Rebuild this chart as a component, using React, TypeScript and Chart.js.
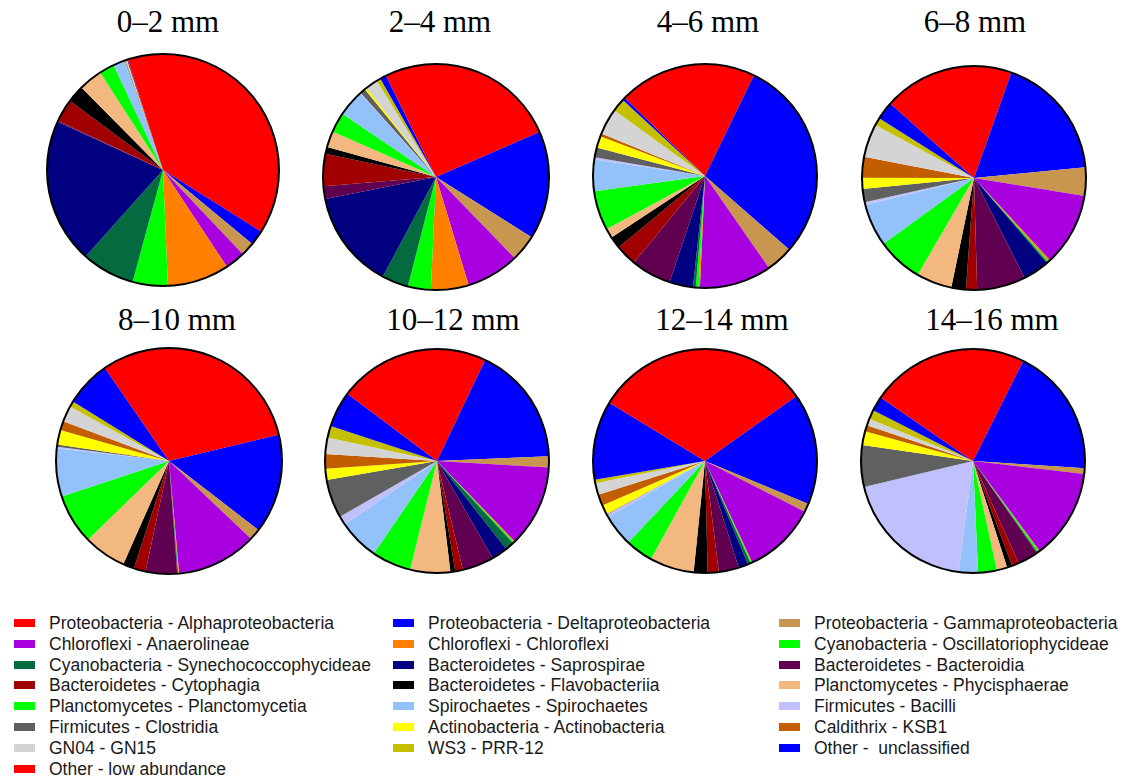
import React, { useEffect, useRef } from "react";
import { Chart, registerables } from "chart.js";

Chart.register(...registerables);

// ---- Data ----
const categories = [
  "Proteobacteria - Alphaproteobacteria",
  "Proteobacteria - Deltaproteobacteria",
  "Proteobacteria - Gammaproteobacteria",
  "Chloroflexi - Anaerolineae",
  "Chloroflexi - Chloroflexi",
  "Cyanobacteria - Oscillatoriophycideae",
  "Cyanobacteria - Synechococcophycideae",
  "Bacteroidetes - Saprospirae",
  "Bacteroidetes - Bacteroidia",
  "Bacteroidetes - Cytophagia",
  "Bacteroidetes - Flavobacteriia",
  "Planctomycetes - Phycisphaerae",
  "Planctomycetes - Planctomycetia",
  "Spirochaetes - Spirochaetes",
  "Firmicutes - Bacilli",
  "Firmicutes - Clostridia",
  "Actinobacteria - Actinobacteria",
  "Caldithrix - KSB1",
  "GN04 - GN15",
  "WS3 - PRR-12",
  "Other -  unclassified",
  "Other - low abundance",
];

const colors = [
  "#FF0000", "#0000FF", "#C8964E", "#A900E0", "#FF8000", "#00FF00",
  "#046A40", "#000080", "#610050", "#A00000", "#000000", "#F2B880",
  "#00FF00", "#93C1FA", "#C0C0FF", "#606060", "#FFFF00", "#C25D00",
  "#D4D4D4", "#C4C000", "#0000FF", "#FF0000",
];

const depthLabels = ["0–2 mm", "2–4 mm", "4–6 mm", "6–8 mm", "8–10 mm", "10–12 mm", "12–14 mm", "14–16 mm"];

const d0_2 = [33.9, 2.1, 1.9, 2.8, 8.6, 4.9, 7.4, 20.2, 0.15, 3.2, 2.4, 3.3, 2.1, 1.6, 0.05, 0.1, 0.05, 0.05, 0.1, 0.05, 0.1, 4.9];
const d2_4 = [18.5, 15.5, 3.8, 7.6, 5.4, 3.3, 3.8, 14.1, 1.8, 4.6, 1.0, 2.3, 2.9, 3.8, 0.1, 0.8, 0.3, 0.05, 1.7, 0.6, 0.9, 7.3];
const d4_6 = [7.2, 29.2, 3.9, 10.4, 0.2, 0.4, 0.4, 3.4, 5.8, 3.1, 1.7, 1.4, 5.7, 4.5, 0.35, 1.4, 1.7, 0.4, 3.8, 1.9, 0.4, 12.7];
const d6_8 = [5.4, 18.0, 4.1, 10.5, 0.25, 0.2, 0.15, 3.8, 7.0, 1.6, 2.1, 5.1, 6.6, 6.1, 0.4, 1.9, 1.6, 3.0, 4.8, 1.1, 2.6, 13.4];
const d8_10 = [21.3, 14.2, 1.6, 11.5, 0.1, 0.05, 0.07, 0.05, 4.5, 1.7, 1.6, 6.1, 7.2, 6.9, 0.2, 0.3, 2.1, 1.3, 2.3, 0.8, 6.6, 9.6];
const d10_12 = [7.1, 17.3, 1.6, 11.9, 0.15, 0.2, 1.3, 2.3, 4.6, 1.1, 0.7, 5.8, 5.7, 5.9, 1.3, 5.6, 1.6, 2.1, 2.4, 1.7, 5.2, 14.8];
const d12_14 = [15.2, 16.1, 1.2, 10.6, 0.1, 0.15, 0.4, 1.4, 2.9, 1.6, 2.0, 6.4, 4.0, 4.6, 0.4, 0.1, 1.4, 1.6, 1.7, 0.5, 11.4, 16.3];
const d14_16 = [7.4, 18.6, 0.8, 13.0, 0.1, 0.25, 0.05, 0.05, 3.0, 1.0, 0.75, 1.5, 2.7, 2.75, 19.2, 6.0, 2.0, 0.9, 1.0, 1.3, 2.1, 15.4];

const seriesList = [d0_2, d2_4, d4_6, d6_8, d8_10, d10_12, d12_14, d14_16];

// ---- Layout (positions only) ----
const pieLayout = [
  { cx: 163, cy: 170, r: 116, tx: 168, ty: 32 },
  { cx: 436, cy: 177, r: 113, tx: 440, ty: 32 },
  { cx: 705, cy: 176, r: 112, tx: 708, ty: 32 },
  { cx: 974, cy: 178, r: 112, tx: 975, ty: 32 },
  { cx: 169, cy: 461, r: 113, tx: 177, ty: 330 },
  { cx: 437, cy: 461, r: 112, tx: 453, ty: 330 },
  { cx: 705, cy: 461, r: 112, tx: 722, ty: 330 },
  { cx: 973, cy: 461, r: 112, tx: 992, ty: 330 },
];

const legendCols = [
  { sx: 14, tx: 49 },
  { sx: 393, tx: 428 },
  { sx: 779, tx: 814 },
];

const outlinePlugin = {
  id: "outline",
  afterDatasetsDraw(chart: any) {
    const arc = chart.getDatasetMeta(0).data[0];
    if (!arc) return;
    const { x, y, outerRadius } = arc.getProps(["x", "y", "outerRadius"], true);
    const ctx = chart.ctx;
    ctx.save();
    ctx.beginPath();
    ctx.arc(x, y, outerRadius, 0, Math.PI * 2);
    ctx.lineWidth = 2;
    ctx.strokeStyle = "#000";
    ctx.stroke();
    ctx.restore();
  },
};

const PAD = 4;

function Pie({ values, layout }: { values: number[]; layout: any }) {
  const ref = useRef<HTMLCanvasElement | null>(null);
  useEffect(() => {
    if (!ref.current) return;
    const chart = new Chart(ref.current, {
      type: "pie",
      data: {
        labels: categories,
        datasets: [
          {
            data: values,
            backgroundColor: colors,
            borderWidth: 0,
            hoverOffset: 0,
            offset: 0,
          },
        ],
      },
      options: {
        responsive: false,
        maintainAspectRatio: false,
        animation: false,
        devicePixelRatio: 1,
        layout: { padding: PAD },
        plugins: {
          legend: { display: false },
          tooltip: { enabled: false },
          title: { display: false },
        },
      },
      plugins: [outlinePlugin],
    });
    return () => chart.destroy();
  }, [values]);
  const size = layout.r * 2 + PAD * 2;
  return (
    <canvas
      ref={ref}
      width={size}
      height={size}
      style={{
        position: "absolute",
        left: layout.cx - layout.r - PAD,
        top: layout.cy - layout.r - PAD,
        width: size,
        height: size,
      }}
    />
  );
}

export default function App() {
  return (
    <div
      style={{
        position: "fixed",
        left: 0,
        top: 0,
        width: 1125,
        height: 777,
        background: "#fff",
        overflow: "hidden",
      }}
    >
      {seriesList.map((vals, i) => {
        const l = pieLayout[i];
        return (
          <React.Fragment key={i}>
            <div
              style={{
                position: "absolute",
                left: l.tx - 100,
                top: l.ty - 26,
                width: 200,
                textAlign: "center",
                fontFamily: "'Liberation Serif', 'Times New Roman', serif",
                fontSize: 31,
                lineHeight: "31px",
                color: "#000",
                whiteSpace: "pre",
              }}
            >
              {depthLabels[i]}
            </div>
            <Pie values={vals} layout={l} />
          </React.Fragment>
        );
      })}
      {categories.map((c, i) => {
        const col = legendCols[i % 3];
        const row = Math.floor(i / 3);
        const cy = 623 + row * 20.8;
        return (
          <React.Fragment key={"lg" + i}>
            <div
              style={{
                position: "absolute",
                left: col.sx,
                top: cy - 4,
                width: 21,
                height: 8,
                background: colors[i],
              }}
            />
            <div
              style={{
                position: "absolute",
                left: col.tx,
                top: cy - 11,
                fontFamily: "'Liberation Sans', Arial, sans-serif",
                fontSize: 17.5,
                lineHeight: "22px",
                color: "#1a1a1a",
                whiteSpace: "pre",
              }}
            >
              {c}
            </div>
          </React.Fragment>
        );
      })}
    </div>
  );
}
